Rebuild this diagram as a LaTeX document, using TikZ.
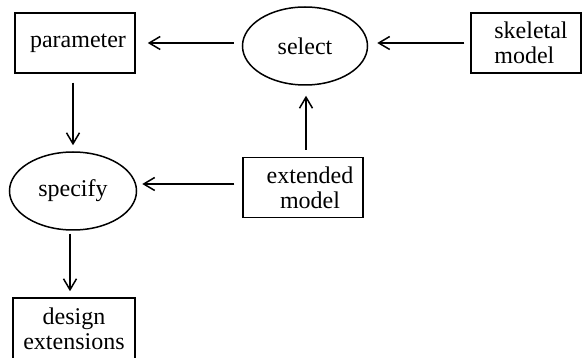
\documentclass[tikz,border=0pt]{standalone}
\usepackage{fontspec}
\setmainfont{Liberation Serif}
\usetikzlibrary{arrows.meta,shapes.geometric}
\begin{document}
\begin{tikzpicture}[x=1pt,y=-1pt,
  lbl/.style={font=\fontsize{24}{25}\selectfont},
  box/.style={lbl,draw,line width=1.5pt,inner sep=0pt,align=center,minimum width=120pt,minimum height=60pt},
  oval/.style={lbl,draw,ellipse,line width=1.5pt,inner sep=0pt,minimum width=125pt,minimum height=78pt},
  flow/.style={line width=1.5pt,-{Straight Barb[length=11pt,width=13pt,line width=1.5pt]}}]
\useasboundingbox (0,0) rectangle (582,358);

\node[box]  (parameter) at (75,43)    {\hspace*{6pt}parameter};
\node[oval] (select)    at (305,46)   {select};
\node[box,minimum width=110pt,align=left] (skeletal) at (526,43) {\hspace*{10pt}skeletal\\\hspace*{10pt}model};
\node[box]  (extended)  at (303,187.5) {\hspace*{14pt}extended\\\hspace*{14pt}model};
\node[oval,minimum width=127pt] (specify) at (73,191) {specify};
\node[box,minimum width=122pt,minimum height=62pt] (design) at (74,329) {design\\extensions};

\draw[flow,shorten <=8pt,shorten >=12pt] (select.west |- parameter.east) -- (parameter.east);
\draw[flow,shorten <=6pt,shorten >=9pt] (skeletal.west) -- (skeletal.west -| select.east);
\draw[flow,shorten <=7pt,shorten >=10pt] ([xshift=3pt]extended.north) -- ([xshift=3pt]extended.north |- select.south);
\draw[flow,shorten <=8pt,shorten >=5pt] ([yshift=3.5pt]extended.west) -- ([yshift=3.5pt]extended.west -| specify.east);
\draw[flow,shorten <=9pt,shorten >=6pt] ([xshift=-2pt]parameter.south) -- ([xshift=-2pt]parameter.south |- specify.north);
\draw[flow,shorten <=3pt,shorten >=6pt] ([xshift=-3pt]specify.south) -- ([xshift=-3pt]specify.south |- design.north);
\end{tikzpicture}
\end{document}
